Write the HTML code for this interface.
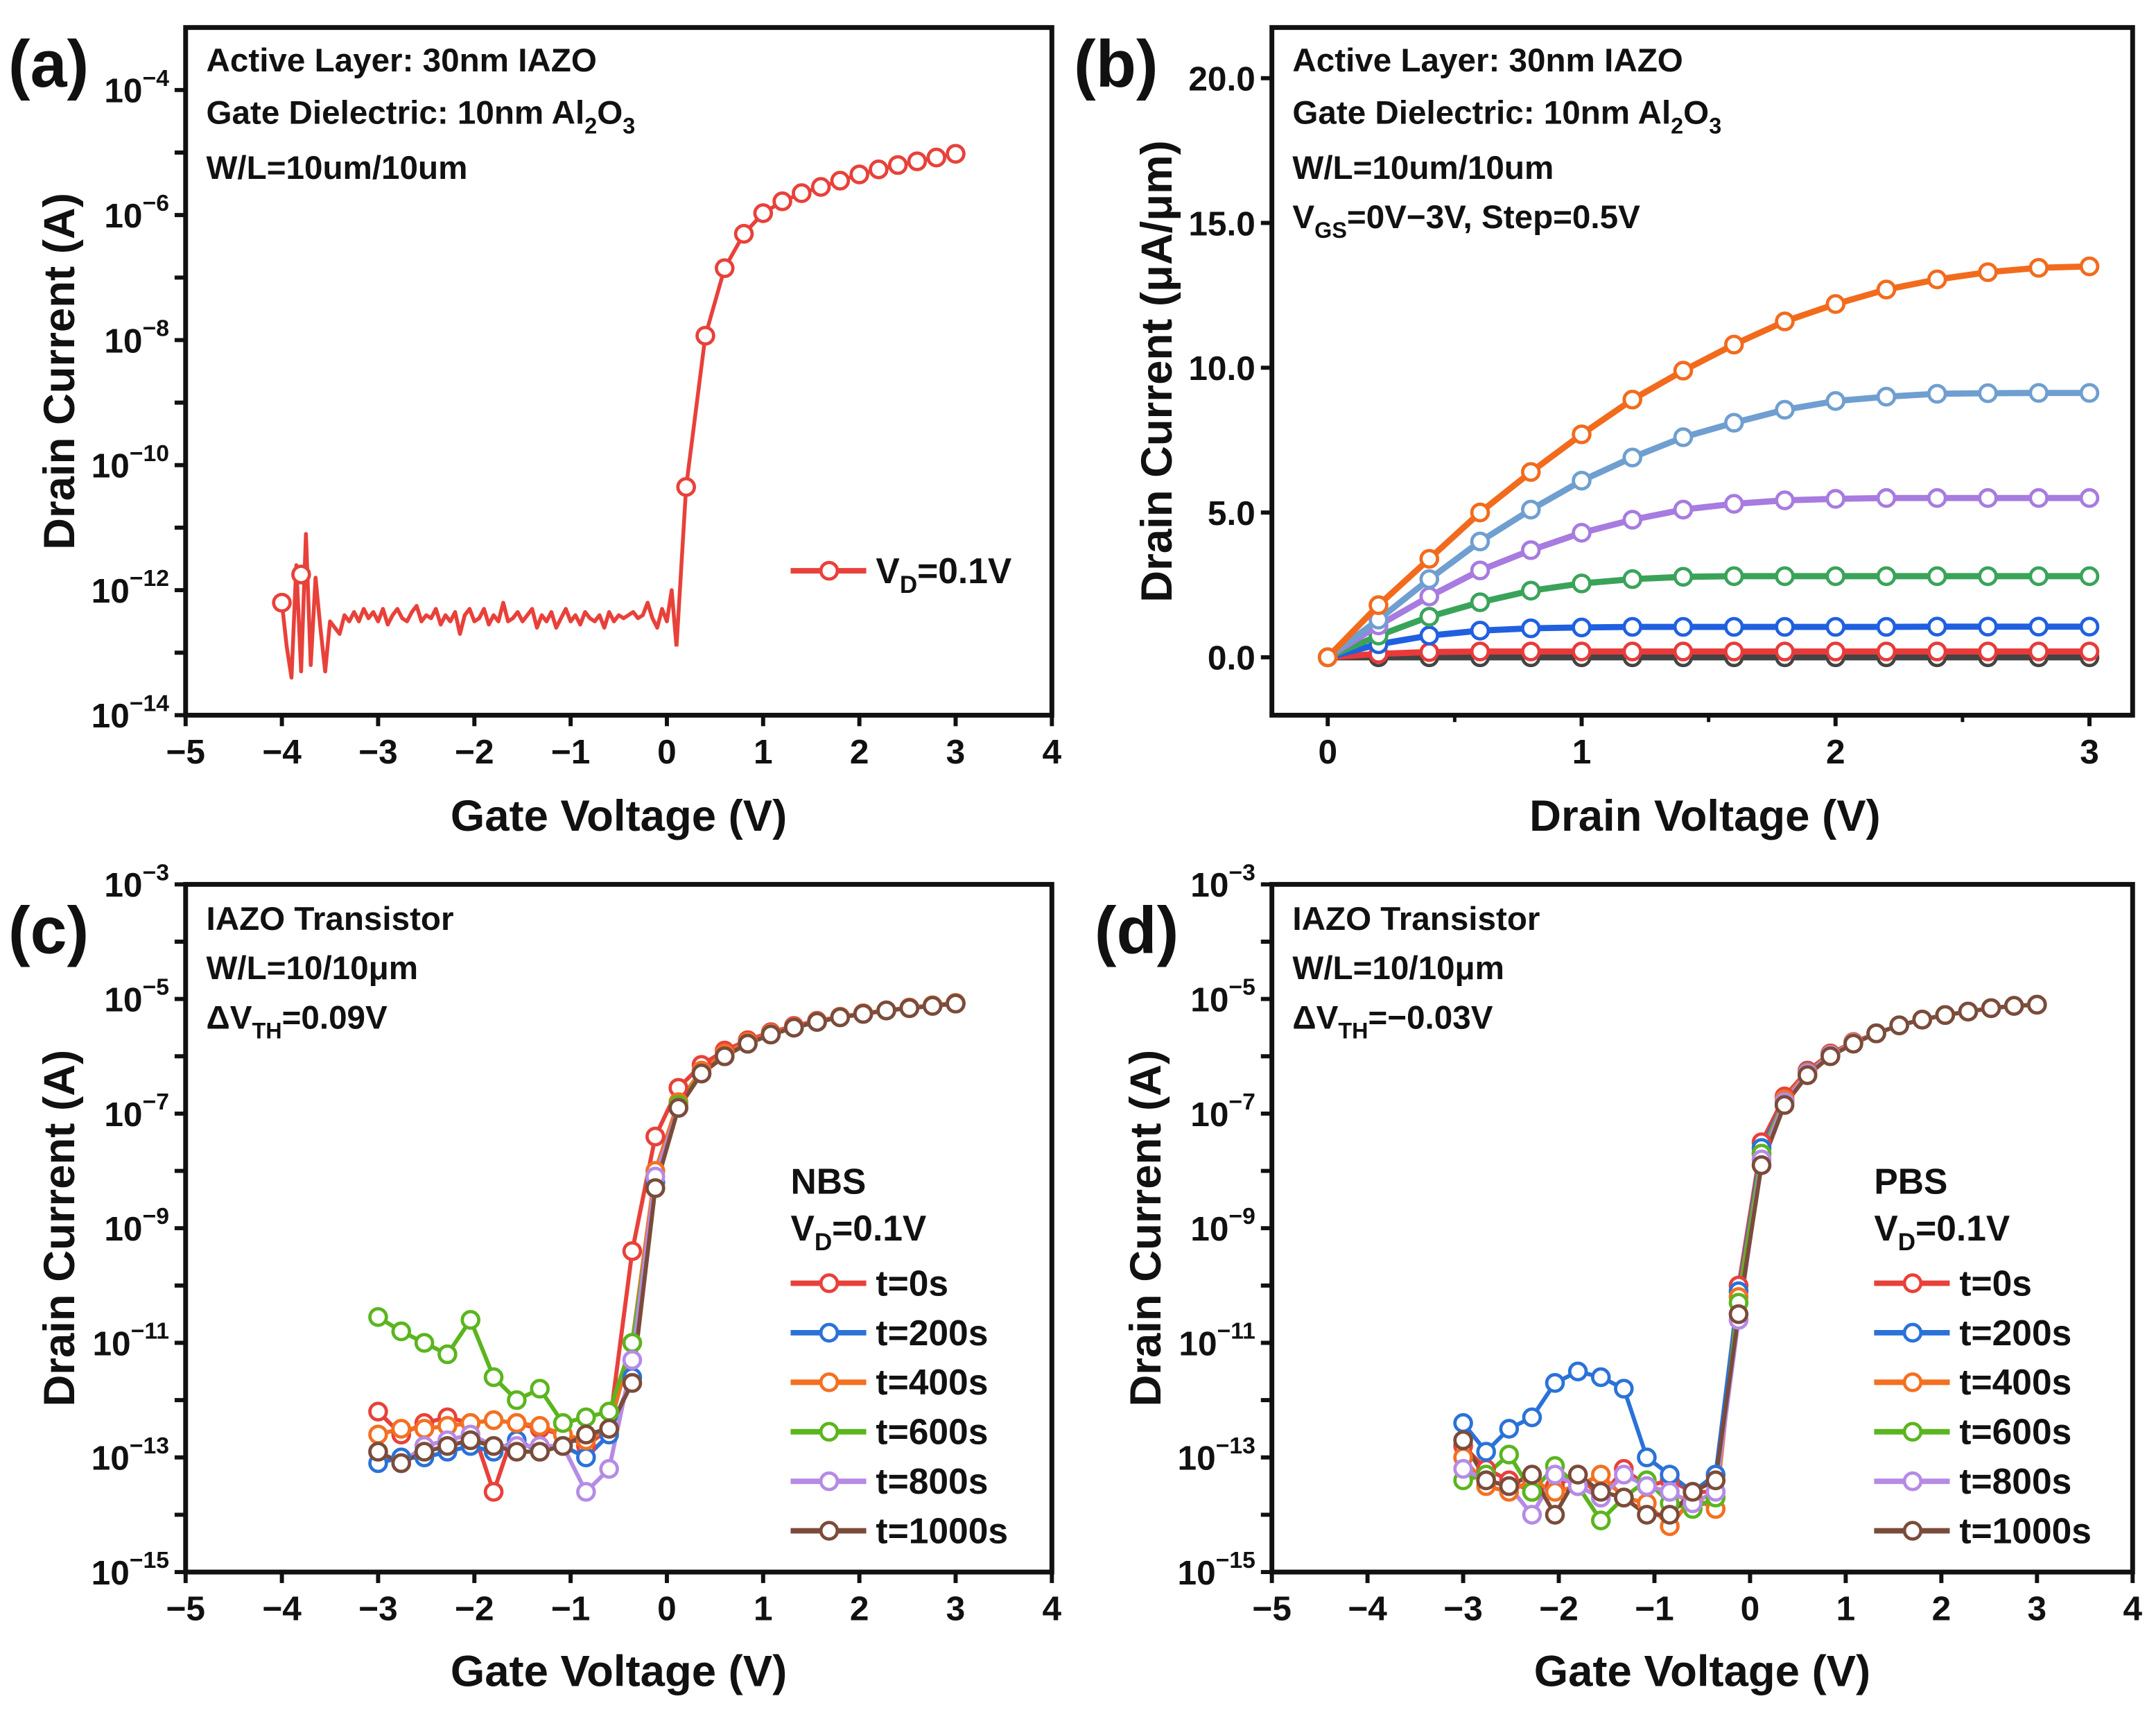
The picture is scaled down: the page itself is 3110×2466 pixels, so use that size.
<!DOCTYPE html>
<html><head><meta charset="utf-8"><style>
html,body{margin:0;padding:0;background:#fff}
svg{display:block}
text{font-family:"Liberation Sans",Arial,sans-serif;font-weight:bold;fill:#111}
</style></head><body>
<svg id="fig" xmlns="http://www.w3.org/2000/svg" width="3110" height="2466" viewBox="0 0 1568 1243.3" preserveAspectRatio="none"></svg>
<script>
// ---------- DATA ----------
const aNoiseStartX = -4.0, aNoiseStep = 0.05;
const aNoise = [-12.2,-12.9,-13.4,-11.6,-13.3,-11.1,-13.2,-11.8,-12.6,-13.3,-12.5,-12.6,-12.7,-12.4,-12.5,-12.35,-12.5,-12.3,-12.45,-12.35,-12.5,-12.3,-12.55,-12.4,-12.3,-12.45,-12.5,-12.35,-12.25,-12.5,-12.4,-12.45,-12.3,-12.55,-12.4,-12.5,-12.35,-12.7,-12.4,-12.3,-12.5,-12.45,-12.3,-12.55,-12.4,-12.5,-12.2,-12.5,-12.45,-12.35,-12.5,-12.4,-12.3,-12.6,-12.4,-12.5,-12.35,-12.6,-12.45,-12.3,-12.5,-12.4,-12.55,-12.35,-12.45,-12.5,-12.4,-12.6,-12.35,-12.5,-12.4,-12.45,-12.4,-12.35,-12.45,-12.4,-12.2,-12.45,-12.6,-12.3,-12.5,-12.0,-12.9];
const aOnX = [0.2,0.4,0.6,0.8,1.0,1.2,1.4,1.6,1.8,2.0,2.2,2.4,2.6,2.8,3.0];
const aOnY = [-10.35,-7.93,-6.85,-6.3,-5.97,-5.78,-5.65,-5.55,-5.45,-5.35,-5.27,-5.2,-5.14,-5.08,-5.02];
const aMarkX = [-4.0,-3.8];
const aMarkY = [-12.2,-11.75];
const bVd = [0,0.2,0.4,0.6,0.8,1.0,1.2,1.4,1.6,1.8,2.0,2.2,2.4,2.6,2.8,3.0];
const bVg0 = [0,0,0,0,0,0,0,0,0,0,0,0,0,0,0,0];
const bVg05 = [0,0.12,0.18,0.2,0.2,0.2,0.2,0.2,0.2,0.2,0.2,0.2,0.2,0.2,0.2,0.2];
const bVg10 = [0,0.45,0.75,0.92,1.0,1.03,1.05,1.05,1.05,1.05,1.05,1.05,1.06,1.06,1.06,1.06];
const bVg15 = [0,0.75,1.4,1.9,2.3,2.55,2.7,2.78,2.8,2.8,2.8,2.8,2.8,2.8,2.8,2.8];
const bVg20 = [0,1.1,2.1,3.0,3.7,4.3,4.75,5.1,5.3,5.42,5.47,5.5,5.5,5.5,5.5,5.5];
const bVg25 = [0,1.3,2.7,4.0,5.1,6.1,6.9,7.6,8.1,8.55,8.85,9.0,9.1,9.12,9.13,9.13];
const bVg30 = [0,1.8,3.4,5.0,6.4,7.7,8.9,9.9,10.8,11.6,12.2,12.7,13.05,13.3,13.45,13.5];
const sVg = [-3.0,-2.76,-2.52,-2.28,-2.04,-1.8,-1.56,-1.32,-1.08,-0.84,-0.6,-0.36,-0.12,0.12,0.36,0.6,0.84,1.08,1.32,1.56,1.8,2.04,2.28,2.52,2.76,3.0];
const cT0 = [-12.2,-12.6,-12.4,-12.3,-12.4,-13.6,-12.4,-12.5,-12.6,-12.8,-12.5,-9.4,-7.4,-6.55,-6.15,-5.9,-5.72,-5.58,-5.47,-5.38,-5.31,-5.25,-5.2,-5.15,-5.11,-5.07];
const cT200 = [-13.1,-13.0,-13.0,-12.9,-12.8,-12.9,-12.7,-12.9,-12.8,-13.0,-12.6,-11.6,-8.2,-6.9,-6.3,-6.0,-5.78,-5.62,-5.5,-5.4,-5.32,-5.26,-5.2,-5.16,-5.12,-5.08];
const cT400 = [-12.6,-12.5,-12.5,-12.45,-12.4,-12.35,-12.4,-12.45,-12.6,-12.7,-12.5,-11.0,-8.0,-6.8,-6.25,-5.95,-5.75,-5.6,-5.49,-5.39,-5.31,-5.25,-5.2,-5.15,-5.11,-5.07];
const cT600 = [-10.55,-10.8,-11.0,-11.2,-10.6,-11.6,-12.0,-11.8,-12.4,-12.3,-12.2,-11.0,-8.3,-6.85,-6.3,-6.0,-5.78,-5.62,-5.5,-5.4,-5.32,-5.26,-5.2,-5.16,-5.12,-5.08];
const cT800 = [-12.9,-13.1,-12.8,-12.7,-12.6,-12.8,-12.8,-12.8,-12.8,-13.6,-13.2,-11.3,-8.1,-6.9,-6.3,-6.0,-5.78,-5.62,-5.5,-5.4,-5.32,-5.26,-5.2,-5.16,-5.12,-5.08];
const cT1000 = [-12.9,-13.1,-12.9,-12.8,-12.7,-12.8,-12.9,-12.9,-12.8,-12.6,-12.5,-11.7,-8.3,-6.9,-6.3,-6.0,-5.78,-5.62,-5.5,-5.4,-5.32,-5.26,-5.2,-5.16,-5.12,-5.08];
const dT0 = [-12.8,-13.2,-13.4,-13.6,-13.5,-13.3,-13.7,-13.2,-13.5,-13.4,-13.6,-13.6,-10.0,-7.5,-6.7,-6.25,-5.95,-5.75,-5.6,-5.46,-5.36,-5.28,-5.22,-5.16,-5.12,-5.1];
const dT200 = [-12.4,-12.9,-12.5,-12.3,-11.7,-11.5,-11.6,-11.8,-13.0,-13.3,-13.6,-13.3,-10.1,-7.6,-6.75,-6.27,-5.97,-5.76,-5.6,-5.46,-5.36,-5.28,-5.22,-5.16,-5.12,-5.1];
const dT400 = [-13.0,-13.5,-13.6,-13.4,-13.6,-13.5,-13.3,-13.7,-13.8,-14.2,-13.7,-13.9,-10.2,-7.7,-6.75,-6.28,-5.97,-5.76,-5.6,-5.46,-5.36,-5.28,-5.22,-5.16,-5.12,-5.1];
const dT600 = [-13.4,-13.3,-12.95,-13.6,-13.15,-13.5,-14.1,-13.7,-13.4,-13.8,-13.9,-13.7,-10.3,-7.7,-6.8,-6.3,-5.98,-5.77,-5.6,-5.46,-5.36,-5.28,-5.22,-5.16,-5.12,-5.1];
const dT800 = [-13.2,-13.4,-13.5,-14.0,-13.3,-13.5,-13.7,-13.3,-13.5,-13.6,-13.8,-13.6,-10.6,-7.8,-6.8,-6.3,-5.98,-5.77,-5.6,-5.46,-5.36,-5.28,-5.22,-5.16,-5.12,-5.1];
const dT1000 = [-12.7,-13.4,-13.5,-13.3,-14.0,-13.3,-13.6,-13.7,-14.0,-14.0,-13.6,-13.4,-10.5,-7.9,-6.85,-6.33,-6.0,-5.78,-5.6,-5.46,-5.36,-5.28,-5.22,-5.16,-5.12,-5.1];
const legendLabels = ["t=0s","t=200s","t=400s","t=600s","t=800s","t=1000s"];
const gateTicks = [-5,-4,-3,-2,-1,0,1,2,3,4];
const bXTicks = [0,1,2,3];
const bYTicks = [0,5,10,15,20];

// ---------- HELPERS ----------
const NS="http://www.w3.org/2000/svg";
const svg=document.getElementById('fig');
function mk(tag,attrs,parent){const e=document.createElementNS(NS,tag);for(const k in attrs)e.setAttribute(k,attrs[k]);(parent||svg).appendChild(e);return e;}
function lin(d0,d1,p0,p1){return v=>p0+(v-d0)*(p1-p0)/(d1-d0);}
const COL={red:"#e8413a",blue:"#2a72d8",orange:"#f37021",green:"#5bb51e",purple:"#b58be6",brown:"#7b4b3a"};
const sCols=[COL.red,COL.blue,COL.orange,COL.green,COL.purple,COL.brown];
const TICKF=25, ANNF=24, TITLEF=32;

function frame(name,L,R,T,B){
  const g=mk('g',{});
  
  
  const r=mk('rect',{x:L,y:T,width:R-L,height:B-T,fill:'none',stroke:'#111','stroke-width':3.5},g);
  
  
  return g;
}
function xTicks(g,ticks,sx,B,labels){
  ticks.forEach((v,i)=>{
    const t=mk('line',{x1:sx(v),x2:sx(v),y1:B,y2:B+8,stroke:'#111','stroke-width':3},g);
    
    
    const tx=mk('text',{x:sx(v),y:B+35,'text-anchor':'middle','font-size':TICKF},g);
    tx.textContent=labels[i];
    
    
  });
}
function logYTicks(g,L,sy,lo,hi,labelStep,startLabel){
  for(let d=lo;d<=hi;d++){
    const t=mk('line',{x1:L-8,x2:L,y1:sy(d),y2:sy(d),stroke:'#111','stroke-width':3},g);
    
    
    if((d-startLabel)%labelStep===0){
      const tx=mk('text',{x:L-12,y:sy(d)+9,'text-anchor':'end','font-size':TICKF},g);
      
      
      const a=mk('tspan',{},tx);a.textContent='10';
      const b=mk('tspan',{dy:-12,'font-size':17},tx);b.textContent=(d<0?'\u2212':'')+Math.abs(d);
    }
  }
}
function txt(g,name,x,y,size,parts,anchor,rot){
  const t=mk('text',{x:x,y:y,'font-size':size,'text-anchor':anchor||'start'},g);
  if(rot)t.setAttribute('transform','rotate(-90 '+x+' '+y+')');
  
  
  parts.forEach(p=>{
    if(typeof p==='string'){const s=mk('tspan',{},t);s.textContent=p;}
    else{const s=mk('tspan',{dy:p.sub?7:-7,'font-size':size*0.68},t);s.textContent=p.sub||p.sup;const s2=mk('tspan',{dy:p.sub?-7:7},t);s2.textContent='\u200b';}
  });
  return t;
}
function poly(g,name,xs,ys,sx,sy,col,w){
  const pts=xs.map((x,i)=>sx(x).toFixed(1)+','+sy(ys[i]).toFixed(1)).join(' ');
  const p=mk('polyline',{points:pts,fill:'none',stroke:col,'stroke-width':w||3,'stroke-linejoin':'round'},g);
  
  
}
function marks(g,name,xs,ys,sx,sy,col){
  xs.forEach((x,i)=>{
    const c=mk('circle',{cx:sx(x),cy:sy(ys[i]),r:6,fill:'#fff',stroke:col,'stroke-width':2.4},g);
    
    
  });
}
function legendEntry(g,x,y,col,label,parts){
  const l=mk('line',{x1:x,x2:x+55,y1:y,y2:y,stroke:col,'stroke-width':4},g);
  
  
  const c=mk('circle',{cx:x+28,cy:y,r:6,fill:'#fff',stroke:col,'stroke-width':2.4},g);
  
  
  txt(g,'legend-entry',x+62,y+9,26,parts||[label]);
}
const gateLabels=gateTicks.map(v=>(v<0?'\u2212':'')+Math.abs(v));

// ---------- PANEL A ----------
(function(){
  const L=135,R=765,T=20,B=520;
  const g=frame('panel-a',L,R,T,B);
  const sx=lin(-5,4,L,R), sy=lin(-14,-3,B,T);
  xTicks(g,gateTicks,sx,B,gateLabels);
  logYTicks(g,L,sy,-14,-4,2,-14);
  const nx=aNoise.map((v,i)=>aNoiseStartX+i*aNoiseStep);
  poly(g,'series-vd-0.1v-off',nx,aNoise,sx,sy,COL.red,2.8);
  poly(g,'series-vd-0.1v-on',[nx[nx.length-1]].concat(aOnX),[aNoise[aNoise.length-1]].concat(aOnY),sx,sy,COL.red,2.8);
  marks(g,'data-point',aMarkX,aMarkY,sx,sy,COL.red);
  marks(g,'data-point',aOnX,aOnY,sx,sy,COL.red);
  legendEntry(g,575,415,COL.red,'',['V',{sub:'D'},'=0.1V']);
  txt(g,'annotation-active-layer',150,52,ANNF,['Active Layer: 30nm IAZO']);
  txt(g,'annotation-gate-dielectric',150,90,ANNF,['Gate Dielectric: 10nm Al',{sub:'2'},'O',{sub:'3'}]);
  txt(g,'annotation-wl',150,130,ANNF,['W/L=10um/10um']);
  txt(g,'panel-label-a',6,63,48,['(a)']);
  txt(g,'x-axis-title',450,604,TITLEF,['Gate Voltage (V)'],'middle');
  txt(g,'y-axis-title',54,270,TITLEF,['Drain Current (A)'],'middle',true);
})();

// ---------- PANEL B ----------
(function(){
  const L=925,R=1551,T=20,B=520;
  const g=frame('panel-b',L,R,T,B);
  const sx=lin(-0.22,3.17,L,R), sy=lin(-2,21.75,B,T);
  xTicks(g,bXTicks,sx,B,bXTicks.map(String));
  [0.5,1.5,2.5].forEach(v=>{const t=mk('line',{x1:sx(v),x2:sx(v),y1:B,y2:B+5,stroke:'#111','stroke-width':2.5},g);});
  bYTicks.forEach(v=>{
    const t=mk('line',{x1:L-8,x2:L,y1:sy(v),y2:sy(v),stroke:'#111','stroke-width':3},g);
    
    
    const tx=mk('text',{x:L-12,y:sy(v)+9,'text-anchor':'end','font-size':TICKF},g);
    tx.textContent=v.toFixed(1);
    
    
  });
  const series=[[bVg0,'#444','vgs-0v'],[bVg05,'#e83a3a','vgs-0.5v'],[bVg10,'#2060e0','vgs-1.0v'],[bVg15,'#3aa35a','vgs-1.5v'],[bVg20,'#a77be0','vgs-2.0v'],[bVg25,'#6f9fd0','vgs-2.5v'],[bVg30,'#f26b1d','vgs-3.0v']];
  series.forEach(s=>{poly(g,'series-'+s[2],bVd,s[0],sx,sy,s[1],4.5);marks(g,'data-point',bVd,s[0],sx,sy,s[1]);});
  txt(g,'annotation-active-layer',940,52,ANNF,['Active Layer: 30nm IAZO']);
  txt(g,'annotation-gate-dielectric',940,90,ANNF,['Gate Dielectric: 10nm Al',{sub:'2'},'O',{sub:'3'}]);
  txt(g,'annotation-wl',940,130,ANNF,['W/L=10um/10um']);
  txt(g,'annotation-vgs',940,166,ANNF,['V',{sub:'GS'},'=0V\u22123V, Step=0.5V']);
  txt(g,'panel-label-b',781,63,48,['(b)']);
  txt(g,'x-axis-title',1240,604,TITLEF,['Drain Voltage (V)'],'middle');
  txt(g,'y-axis-title',852,270,TITLEF,['Drain Current (\u03bcA/\u03bcm)'],'middle',true);
})();

// ---------- PANELS C, D ----------
function stressPanel(id,L,R,sets,title,ann3,labelX,ytitleX){
  const T=643,B=1143;
  const g=frame('panel-'+id,L,R,T,B);
  const sx=lin(-5,4,L,R), sy=lin(-15,-3,B,T);
  xTicks(g,gateTicks,sx,B,gateLabels);
  logYTicks(g,L,sy,-15,-3,2,-15);
  sets.forEach((s,i)=>{poly(g,'series-'+legendLabels[i],sVg,s,sx,sy,sCols[i],3);});
  sets.forEach((s,i)=>{marks(g,'data-point',sVg,s,sx,sy,sCols[i]);});
  const lx=id==='c'?575:1363;
  txt(g,'legend-title',lx,868,26,[title]);
  txt(g,'legend-subtitle',lx,902,26,['V',{sub:'D'},'=0.1V']);
  legendLabels.forEach((lab,i)=>legendEntry(g,lx,933+i*36,sCols[i],lab));
  const ax=L+15;
  txt(g,'annotation-device',ax,676,ANNF,['IAZO Transistor']);
  txt(g,'annotation-wl',ax,712,ANNF,['W/L=10/10\u03bcm']);
  txt(g,'annotation-delta-vth',ax,748,ANNF,['\u0394V',{sub:'TH'},ann3]);
  txt(g,'panel-label-'+id,labelX,693,48,['('+id+')']);
  txt(g,'x-axis-title',(L+R)/2,1226,TITLEF,['Gate Voltage (V)'],'middle');
  txt(g,'y-axis-title',ytitleX,893,TITLEF,['Drain Current (A)'],'middle',true);
}
stressPanel('c',135,765,[cT0,cT200,cT400,cT600,cT800,cT1000],'NBS','=0.09V',6,54);
stressPanel('d',925,1551,[dT0,dT200,dT400,dT600,dT800,dT1000],'PBS','=\u22120.03V',796,844);
</script>
</body></html>
